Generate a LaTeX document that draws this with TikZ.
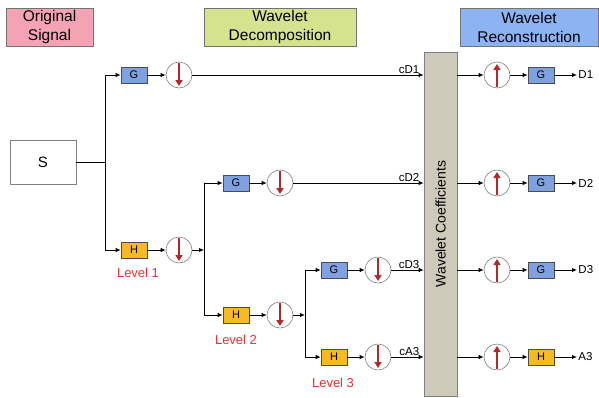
\documentclass[tikz,border=0pt]{standalone}
\usepackage{fontspec}
\setmainfont{Liberation Sans}
\usetikzlibrary{arrows.meta}
\definecolor{sigpink}{HTML}{F4A3B4}
\definecolor{decgreen}{HTML}{D5E38F}
\definecolor{recblue}{HTML}{8DB3F2}
\definecolor{coefgray}{HTML}{CDCAB9}
\definecolor{gblue}{HTML}{7FA1E0}
\definecolor{horange}{HTML}{F8BA22}
\definecolor{arrowred}{HTML}{B02A2A}
\definecolor{lvlred}{HTML}{EE2E2E}
\begin{document}
\begin{tikzpicture}[x=1pt, y=-1pt, line width=0.9pt,
  hdr/.style={draw=gray!90!black, line width=0.6pt, rectangle, align=center, minimum height=38pt, inner sep=0pt, font=\fontsize{15.5}{19}\selectfont},
  sigbox/.style={draw=gray, line width=0.6pt, rectangle, minimum width=66pt, minimum height=44pt, font=\fontsize{15}{18}\selectfont},
  gbox/.style={draw=gray!60!black, line width=0.6pt, fill=gblue, rectangle, minimum width=26pt, minimum height=16pt, inner sep=0pt, font=\fontsize{11}{12}\selectfont},
  hbox/.style={gbox, fill=horange},
  downs/.style={circle, draw=gray, line width=0.6pt, fill=white, minimum size=26pt, inner sep=0pt,
    path picture={\draw[line width=2.4pt, draw=arrowred, -{Triangle[length=6pt,width=7pt]}] ([yshift=-1pt]path picture bounding box.north) -- ([yshift=2pt]path picture bounding box.south);}},
  ups/.style={circle, draw=gray, line width=0.6pt, fill=white, minimum size=26pt, inner sep=0pt,
    path picture={\draw[line width=2.4pt, draw=arrowred, -{Triangle[length=6pt,width=7pt]}] ([yshift=1pt]path picture bounding box.south) -- ([yshift=-2pt]path picture bounding box.north);}},
  coef/.style={draw=gray, line width=0.6pt, fill=coefgray, rectangle, rotate=90, minimum width=344pt, minimum height=33pt, inner sep=0pt, font=\fontsize{14}{15}\selectfont},
  lvl/.style={text=lvlred, font=\fontsize{13}{14}\selectfont},
  lbl/.style={font=\fontsize{11.5}{12}\selectfont, inner sep=1pt},
  outlbl/.style={anchor=west, inner sep=1pt, font=\fontsize{11.5}{12}\selectfont},
  flow/.style={-{Latex[length=5pt,width=4.5pt]}}
]
\useasboundingbox (0,0) rectangle (599,397);
% headers
\node[hdr, fill=sigpink, minimum width=87pt] (orig) at (49.5,27) {Original\\Signal};
\node[hdr, fill=decgreen, minimum width=152pt] (dec) at (280,27) {Wavelet\\Decomposition};
\node[hdr, fill=recblue, minimum width=138pt] (rec) at (529,27) {Wavelet\\Reconstruction};
% decomposition
\node[sigbox] (S) at (43,162) {S};
\coordinate (j1) at (105,162);
\node[gbox] (g1) at (134,75) {G};
\node[hbox] (h1) at (134,250) {H};
\node[downs] (dg1) at (179,75) {};
\node[downs] (dh1) at (179,250) {};
\node[lvl] (lv1) at (138,273) {Level 1};
\coordinate (j2) at (204,250);
\node[gbox] (g2) at (236,183) {G};
\node[hbox] (h2) at (236,315) {H};
\node[downs] (dg2) at (280,183) {};
\node[downs] (dh2) at (280,315) {};
\node[lvl] (lv2) at (236,340) {Level 2};
\coordinate (j3) at (305,315);
\node[gbox] (g3) at (334,270) {G};
\node[hbox] (h3) at (334,357) {H};
\node[downs] (dg3) at (378,270) {};
\node[downs] (dh3) at (378,357) {};
\node[lvl] (lv3) at (333,383) {Level 3};
\node[coef] (coef) at (440.5,224) {Wavelet Coefficients};
% reconstruction
\node[ups] (ud1) at (497,75) {};
\node[ups] (ud2) at (497,183) {};
\node[ups] (ud3) at (497,270) {};
\node[ups] (ua3) at (497,357) {};
\node[gbox] (rg1) at (541,75) {G};
\node[gbox] (rg2) at (541,183) {G};
\node[gbox] (rg3) at (541,270) {G};
\node[hbox] (rh3) at (541,357) {H};
\node[outlbl] (D1) at (577,75) {D1};
\node[outlbl] (D2) at (577,183) {D2};
\node[outlbl] (D3) at (577,270) {D3};
\node[outlbl] (A3) at (577,357) {A3};
% connectors
\draw (S.east) -- (j1);
\draw[flow] (j1) |- (g1);
\draw[flow] (j1) |- (h1);
\draw[flow] (g1) -- (dg1);
\draw[flow] (h1) -- (dh1);
\draw[flow] (dh1) -- (j2);
\draw[flow] (j2) |- (g2);
\draw[flow] (j2) |- (h2);
\draw[flow] (g2) -- (dg2);
\draw[flow] (h2) -- (dh2);
\draw[flow] (dh2) -- (j3);
\draw[flow] (j3) |- (g3);
\draw[flow] (j3) |- (h3);
\draw[flow] (g3) -- (dg3);
\draw[flow] (h3) -- (dh3);
\draw[flow] (dg1) -- (dg1 -| coef.north) node[lbl, above left, xshift=-3pt] {cD1};
\draw[flow] (dg2) -- (dg2 -| coef.north) node[lbl, above left, xshift=-3pt] {cD2};
\draw[flow] (dg3) -- (dg3 -| coef.north) node[lbl, above left, xshift=-3pt] {cD3};
\draw[flow] (dh3) -- (dh3 -| coef.north) node[lbl, above left, xshift=-3pt] {cA3};
\draw[flow] (ud1 -| coef.south) -- (ud1);
\draw[flow] (ud2 -| coef.south) -- (ud2);
\draw[flow] (ud3 -| coef.south) -- (ud3);
\draw[flow] (ua3 -| coef.south) -- (ua3);
\draw[flow] (ud1) -- (rg1);
\draw[flow] (ud2) -- (rg2);
\draw[flow] (ud3) -- (rg3);
\draw[flow] (ua3) -- (rh3);
\draw[flow] (rg1) -- (D1);
\draw[flow] (rg2) -- (D2);
\draw[flow] (rg3) -- (D3);
\draw[flow] (rh3) -- (A3);
\end{tikzpicture}
\end{document}
